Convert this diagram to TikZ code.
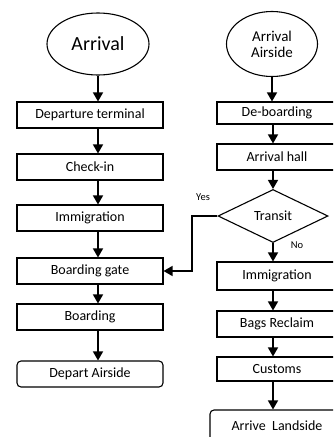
\documentclass[tikz,border=0pt]{standalone}
\usepackage{fontspec}
\setmainfont{Carlito}
\usetikzlibrary{positioning, shapes, arrows.meta}

\tikzset{
  stepbox/.style={draw, line width=1.1pt, rectangle, minimum height=26, inner sep=1pt},
  endbox/.style={stepbox, rounded corners=4pt},
  startnode/.style={draw, line width=1.1pt, ellipse, inner sep=0pt},
  decision/.style={draw, line width=1.1pt, diamond, inner sep=0pt, minimum width=110, minimum height=53},
  flow/.style={line width=1.5pt, -{Triangle[length=9pt,width=10pt]}},
  smalltext/.style={font=\fontsize{10.5}{12}\selectfont}
}

\begin{document}
\begin{tikzpicture}[x=1pt, y=-1pt, font=\fontsize{14}{16}\selectfont]
	\clip (0,0) rectangle (333,437);
	
	% Left column
	\node[startnode, minimum width=102, minimum height=62] (arr) at (98,44) {\fontsize{20}{22}\selectfont Arrival};
	\node[stepbox, minimum width=146] (dep) at (90,115) {Departure terminal};
	\node[stepbox, minimum width=146] (chk) at (90,167) {Check-in};
	\node[stepbox, minimum width=146] (imm) at (90,218) {Immigration};
	\node[stepbox, minimum width=146] (gate) at (90,271) {Boarding gate};
	\node[stepbox, minimum width=146] (brd) at (90,317) {Boarding};
	\node[endbox, minimum width=146] (dpa) at (90,374) {Depart Airside};
	
	% Right column
	\node[startnode, minimum width=91, minimum height=65, align=center] (ars) at (272,44) {\fontsize{15}{20}\selectfont Arrival\\ \fontsize{15}{20}\selectfont Airside};
	\node[stepbox, minimum width=120, minimum height=22] (deb) at (277,113) {De-boarding};
	\node[stepbox, minimum width=120] (hall) at (277,157) {Arrival hall};
	\node[decision] (tr) at (273,216) {Transit};
	\node[stepbox, minimum width=120, minimum height=28] (imr) at (277,276) {Immigration};
	\node[stepbox, minimum width=120] (bag) at (277,324) {Bags Reclaim};
	\node[stepbox, minimum width=120, minimum height=24] (cus) at (277,369) {Customs};
	\node[endbox, minimum width=134, minimum height=32] (lan) at (277,426) {Arrive~ Landside};
	
	% Labels
	\node[smalltext] (yes) at (203,197) {Yes};
	\node[smalltext] (no) at (297,245) {No};
	\coordinate (yesbend) at (192,216);
	
	% Arrows left
	\draw[flow] (arr.south) -- (arr.south |- dep.north);
	\draw[flow] (dep.south -| arr.south) -- (chk.north -| arr.south);
	\draw[flow] (chk.south -| arr.south) -- (imm.north -| arr.south);
	\draw[flow] (imm.south -| arr.south) -- (gate.north -| arr.south);
	\draw[flow] (gate.south -| arr.south) -- (brd.north -| arr.south);
	\draw[flow] (brd.south -| arr.south) -- (dpa.north -| arr.south);
	
	% Arrows right
	\draw[flow] (ars.south) -- (ars.south |- deb.north);
	\draw[flow] (deb.south -| tr.north) -- (hall.north -| tr.north);
	\draw[flow] (hall.south -| tr.north) -- (tr.north);
	\draw[flow] (tr.south) -- (imr.north -| tr.south);
	\draw[flow] (imr.south -| tr.south) -- (bag.north -| tr.south);
	\draw[flow] (bag.south -| tr.south) -- (cus.north -| tr.south);
	\draw[flow] (cus.south -| tr.south) -- (lan.north -| tr.south);
	
	% Transit to boarding gate
	\draw[flow] (tr.west) -- (yesbend) |- (gate.east);
\end{tikzpicture}
\end{document}
